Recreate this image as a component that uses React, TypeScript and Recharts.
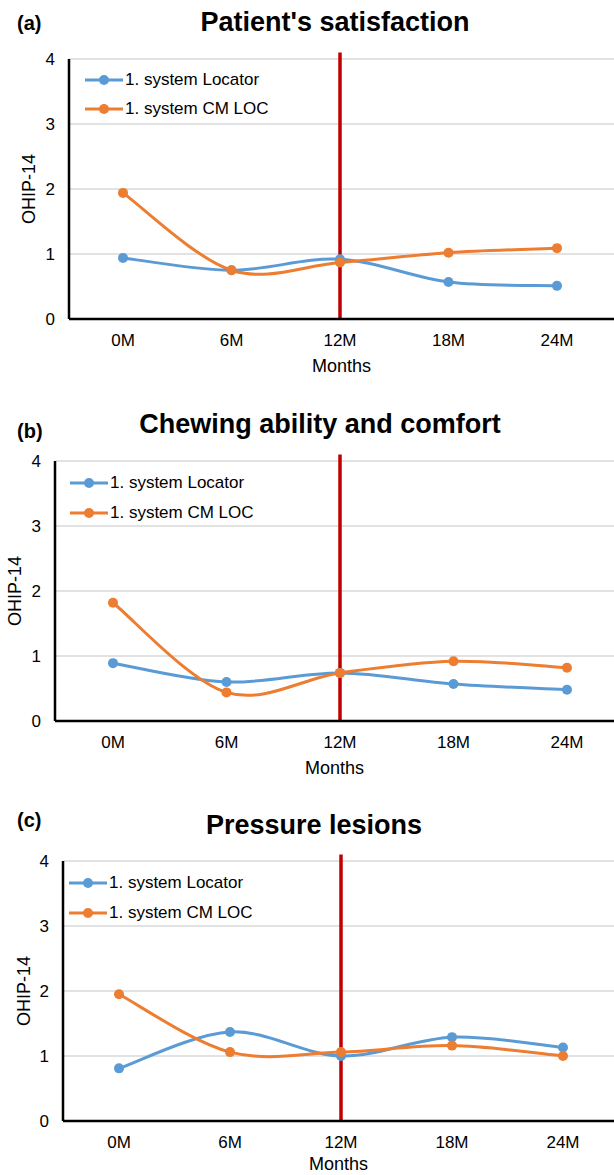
import React from "react";
import { LineChart, Line, XAxis, YAxis, CartesianGrid, ReferenceLine, Legend, Label } from "recharts";

const months = ["0M", "6M", "12M", "18M", "24M"];
const yTicks = [0, 1, 2, 3, 4];
const seriesNames = ["1. system Locator", "1. system CM LOC"];

const satisfactionLocator = [0.94, 0.75, 0.92, 0.57, 0.51];
const satisfactionCmLoc = [1.94, 0.75, 0.87, 1.02, 1.09];

const chewingLocator = [0.89, 0.6, 0.74, 0.57, 0.48];
const chewingCmLoc = [1.82, 0.44, 0.74, 0.92, 0.82];

const lesionsLocator = [0.81, 1.37, 1.0, 1.29, 1.13];
const lesionsCmLoc = [1.95, 1.06, 1.06, 1.16, 1.0];

const BLUE = "#5B9BD5";
const ORANGE = "#ED7D31";
const RED = "#C00000";
const FONT = '"Liberation Sans", Arial, sans-serif';

// Excel-style smoothed line (Catmull-Rom through the points)
function excelSmooth(context: any) {
  let pts: number[][] = [];
  return {
    areaStart() {},
    areaEnd() {},
    lineStart() {
      pts = [];
    },
    point(x: number, y: number) {
      pts.push([x, y]);
    },
    lineEnd() {
      if (!pts.length) return;
      context.moveTo(pts[0][0], pts[0][1]);
      for (let i = 0; i < pts.length - 1; i++) {
        const p0 = pts[i - 1] || pts[i];
        const p1 = pts[i];
        const p2 = pts[i + 1];
        const p3 = pts[i + 2] || p2;
        context.bezierCurveTo(
          p1[0] + (p2[0] - p0[0]) / 6,
          p1[1] + (p2[1] - p0[1]) / 6,
          p2[0] - (p3[0] - p1[0]) / 6,
          p2[1] - (p3[1] - p1[1]) / 6,
          p2[0],
          p2[1]
        );
      }
    },
  };
}

const renderLegend = (rowHeight: number) => (props: any) => {
  const items = [...(props.payload || [])].sort(
    (a: any, b: any) => seriesNames.indexOf(a.value) - seriesNames.indexOf(b.value)
  );
  return (
    <div style={{ fontFamily: FONT }}>
      {items.map((it: any) => (
        <div key={it.value} style={{ display: "flex", alignItems: "center", height: rowHeight }}>
          <svg width={40} height={12} style={{ display: "block" }}>
            <line x1={0} y1={6} x2={38} y2={6} stroke={it.color} strokeWidth={3} />
            <circle cx={19} cy={6} r={5} fill={it.color} />
          </svg>
          <span style={{ fontSize: 17, color: "#000", whiteSpace: "nowrap" }}>{it.value}</span>
        </div>
      ))}
    </div>
  );
};

interface PanelProps {
  top: number;
  height: number;
  letter: string;
  letterY: number;
  title: string;
  titleX: number;
  titleY: number;
  locator: number[];
  cmLoc: number[];
  yAxisWidth: number;
  marginTop: number;
  xAxisHeight: number;
  padLeft: number;
  padRight: number;
  yLabelX: number;
  monthsY: number;
  legendLeft: number;
  legendTop: number;
  legendRow: number;
}

function Panel(p: PanelProps) {
  const rows = months.map((m, i) => ({ month: m, locator: p.locator[i], cmLoc: p.cmLoc[i] }));
  return (
    <div style={{ position: "absolute", left: 0, top: p.top, width: 614, height: p.height }}>
      <div
        style={{
          position: "absolute",
          left: 17,
          top: p.letterY,
          transform: "translateY(-50%)",
          fontFamily: FONT,
          fontWeight: "bold",
          fontSize: 20,
          lineHeight: 1,
        }}
      >
        {p.letter}
      </div>
      <div
        style={{
          position: "absolute",
          left: p.titleX,
          top: p.titleY,
          transform: "translate(-50%, -50%)",
          fontFamily: FONT,
          fontWeight: "bold",
          fontSize: 27,
          lineHeight: 1,
          whiteSpace: "nowrap",
        }}
      >
        {p.title}
      </div>
      <LineChart
        width={614}
        height={p.height}
        data={rows}
        margin={{ top: p.marginTop, right: 0, left: 0, bottom: 0 }}
        style={{ position: "absolute", left: 0, top: 0 }}
      >
        <CartesianGrid vertical={false} stroke="#d9d9d9" strokeWidth={1.5} />
        <XAxis
          dataKey="month"
          height={p.xAxisHeight}
          padding={{ left: p.padLeft, right: p.padRight }}
          axisLine={{ stroke: "#000", strokeWidth: 2.5 }}
          tickLine={false}
          tickSize={0}
          tickMargin={15}
          tick={{ fontSize: 17, fill: "#000", fontFamily: FONT }}
          interval={0}
        >
          <Label
            content={(lp: any) => {
              const vb = lp.viewBox || {};
              return (
                <text
                  x={vb.x + vb.width / 2}
                  y={vb.y + p.monthsY}
                  textAnchor="middle"
                  dominantBaseline="central"
                  fontSize={18}
                  fontFamily={FONT}
                  fill="#000"
                >
                  Months
                </text>
              );
            }}
          />
        </XAxis>
        <YAxis
          width={p.yAxisWidth}
          domain={[0, 4]}
          ticks={yTicks}
          allowDataOverflow
          axisLine={{ stroke: "#000", strokeWidth: 2.5 }}
          tickLine={false}
          tickSize={0}
          tickMargin={14}
          tick={{ fontSize: 17, fill: "#000", fontFamily: FONT }}
        >
          <Label
            content={(lp: any) => {
              const vb = lp.viewBox || {};
              const cx = p.yLabelX;
              const cy = vb.y + vb.height / 2;
              return (
                <text
                  x={cx}
                  y={cy}
                  transform={`rotate(-90, ${cx}, ${cy})`}
                  textAnchor="middle"
                  dominantBaseline="central"
                  fontSize={18}
                  fontFamily={FONT}
                  fill="#000"
                >
                  OHIP-14
                </text>
              );
            }}
          />
        </YAxis>
        <Legend
          layout="vertical"
          align="center"
          verticalAlign="middle"
          content={renderLegend(p.legendRow)}
          wrapperStyle={{ left: p.legendLeft, top: p.legendTop, width: 220 }}
        />
        <Line
          type={excelSmooth as any}
          dataKey="locator"
          name={seriesNames[0]}
          stroke={BLUE}
          strokeWidth={3}
          dot={{ r: 5, fill: BLUE, stroke: BLUE, strokeWidth: 0 }}
          activeDot={false}
          isAnimationActive={false}
        />
        <Line
          type={excelSmooth as any}
          dataKey="cmLoc"
          name={seriesNames[1]}
          stroke={ORANGE}
          strokeWidth={3}
          dot={{ r: 5, fill: ORANGE, stroke: ORANGE, strokeWidth: 0 }}
          activeDot={false}
          isAnimationActive={false}
        />
        <ReferenceLine
          segment={[
            { x: "12M", y: 0 },
            { x: "12M", y: 4.1 },
          ]}
          stroke={RED}
          strokeWidth={3.5}
          ifOverflow="visible"
        />
      </LineChart>
    </div>
  );
}

export default function App() {
  return (
    <div style={{ position: "absolute", left: 0, top: 0, width: 614, height: 1175, background: "#fff" }}>
      <Panel
        top={0}
        height={380}
        letter="(a)"
        letterY={23}
        title="Patient's satisfaction"
        titleX={335}
        titleY={22}
        locator={satisfactionLocator}
        cmLoc={satisfactionCmLoc}
        yAxisWidth={69}
        marginTop={59}
        xAxisHeight={61}
        padLeft={54}
        padRight={57}
        yLabelX={29}
        monthsY={47}
        legendLeft={85}
        legendTop={65}
        legendRow={29}
      />
      <Panel
        top={400}
        height={380}
        letter="(b)"
        letterY={31}
        title="Chewing ability and comfort"
        titleX={320}
        titleY={24}
        locator={chewingLocator}
        cmLoc={chewingCmLoc}
        yAxisWidth={55}
        marginTop={61}
        xAxisHeight={59}
        padLeft={58}
        padRight={47}
        yLabelX={15}
        monthsY={47}
        legendLeft={70}
        legendTop={68}
        legendRow={30}
      />
      <Panel
        top={800}
        height={375}
        letter="(c)"
        letterY={20}
        title="Pressure lesions"
        titleX={314}
        titleY={25}
        locator={lesionsLocator}
        cmLoc={lesionsCmLoc}
        yAxisWidth={63}
        marginTop={61}
        xAxisHeight={54}
        padLeft={56}
        padRight={51}
        yLabelX={24}
        monthsY={43}
        legendLeft={69}
        legendTop={68}
        legendRow={30}
      />
    </div>
  );
}
